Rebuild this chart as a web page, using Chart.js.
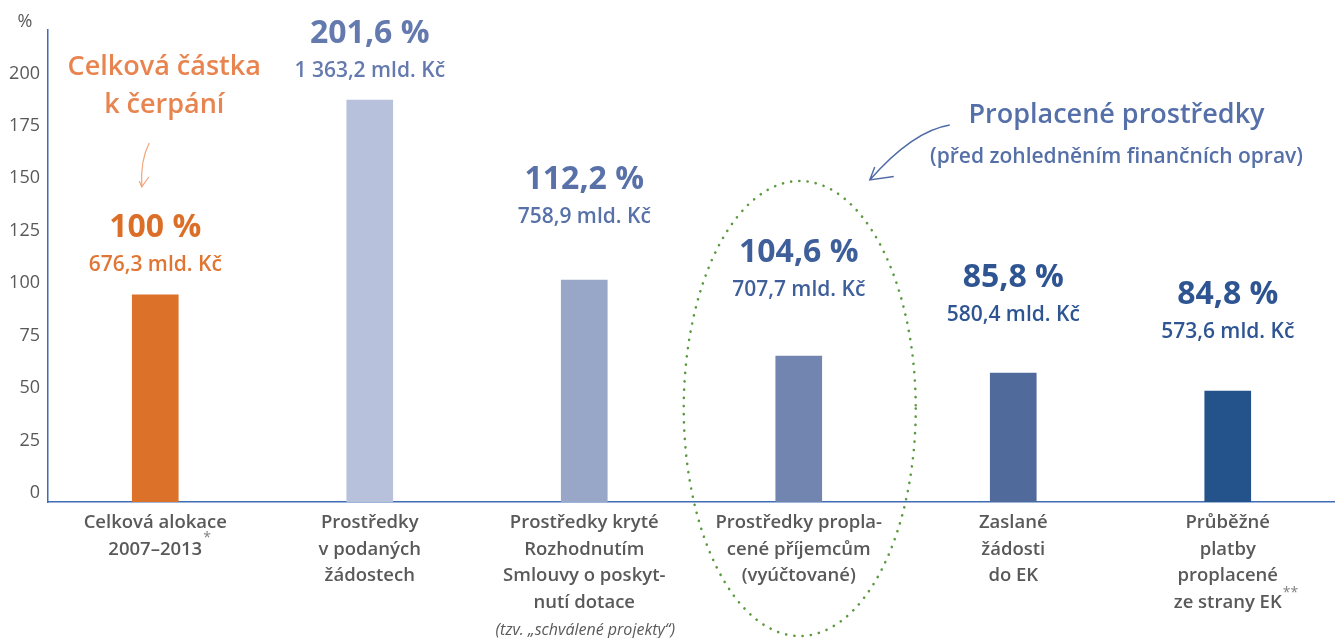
<!DOCTYPE html>
<html lang="cs">
<head>
<meta charset="utf-8">
<title>Čerpání prostředků 2007–2013</title>
<script src="https://cdn.jsdelivr.net/npm/chart.js@4/dist/chart.umd.min.js"></script>
<style>
  html, body { margin: 0; padding: 0; background: #ffffff; }
  #wrap { position: relative; width: 1335px; height: 638px; }
</style>
</head>
<body>
<div id="wrap"><canvas id="c"></canvas></div>
<script>
// ---- data ----
const categories = [
  ["Celková alokace", "2007–2013"],
  ["Prostředky", "v podaných", "žádostech"],
  ["Prostředky kryté", "Rozhodnutím", "Smlouvy o poskyt-", "nutí dotace"],
  ["Prostředky propla-", "cené příjemcům", "(vyúčtované)"],
  ["Zaslané", "žádosti", "do EK"],
  ["Průběžné", "platby", "proplacené", "ze strany EK"]
];
const barValues = [98.7, 191.6, 105.8, 69.6, 61.5, 52.9];
const percentLabels = ["100 %", "201,6 %", "112,2 %", "104,6 %", "85,8 %", "84,8 %"];
const amountLabels = ["676,3 mld. Kč", "1 363,2 mld. Kč", "758,9 mld. Kč", "707,7 mld. Kč", "580,4 mld. Kč", "573,6 mld. Kč"];
const yTickValues = [0, 25, 50, 75, 100, 125, 150, 175, 200];

// ---- styles ----
const barColors = ["#DC7129", "#B8C1DB", "#98A7C8", "#7285B0", "#506A9C", "#24528B"];
const pctColors = ["#DC6F27", "#6479AE", "#5871A8", "#3F5F9B", "#2E5592", "#2E5592"];
const amtColors = ["#E07633", "#6479AE", "#5871A8", "#3F5F9B", "#2E5592", "#2E5592"];
const labelGaps = [30, 29, 63, 66, 58, 59];
const FONT = '"Open Sans", "DejaVu Sans", sans-serif';

const annotations = {
  id: 'annotations',
  afterDraw(chart) {
    const { ctx, chartArea, scales: { x } } = chart;
    const bars = chart.getDatasetMeta(0).data;
    const base = chartArea.bottom;
    ctx.save();
    ctx.textAlign = 'center';
    ctx.textBaseline = 'middle';

    // value labels above bars
    bars.forEach((bar, i) => {
      const g = labelGaps[i];
      ctx.fillStyle = pctColors[i];
      ctx.font = '700 32px ' + FONT;
      ctx.fillText(percentLabels[i], bar.x, bar.y - g - 37);
      ctx.fillStyle = amtColors[i];
      ctx.font = '600 21px ' + FONT;
      ctx.fillText(amountLabels[i], bar.x, bar.y - g);
    });

    // "%" unit
    ctx.fillStyle = '#595959';
    ctx.font = '400 18px ' + FONT;
    ctx.fillText('%', chartArea.left - 23, chartArea.top - 8);

    // Celková částka k čerpání
    const b1 = bars[0].x;
    ctx.fillStyle = '#E8844F';
    ctx.font = '600 27px ' + FONT;
    ctx.fillText('Celková částka', b1 + 9, 67);
    ctx.fillText('k čerpání', b1 + 9, 105);
    // orange arrow
    ctx.strokeStyle = '#F2A57A';
    ctx.lineWidth = 1.2;
    ctx.beginPath();
    ctx.moveTo(b1 - 6, 143);
    ctx.quadraticCurveTo(b1 - 15, 160, b1 - 13.5, 187);
    ctx.moveTo(b1 - 16, 181);
    ctx.lineTo(b1 - 13.5, 187);
    ctx.lineTo(b1 - 6.5, 177);
    ctx.stroke();

    // dotted ellipse around 4th bar
    const cx = bars[3].x + 1;
    ctx.save();
    ctx.strokeStyle = '#5C9A40';
    ctx.lineWidth = 2.6;
    ctx.lineCap = 'round';
    ctx.setLineDash([0.1, 8.2]);
    ctx.beginPath();
    ctx.ellipse(cx, 408.5, 116, 227.5, 0, 0, Math.PI * 2);
    ctx.stroke();
    ctx.restore();

    // blue arrow
    ctx.strokeStyle = '#4F6AA6';
    ctx.lineWidth = 1.4;
    ctx.beginPath();
    ctx.moveTo(cx + 150, 125);
    ctx.quadraticCurveTo(cx + 113, 131, cx + 70, 180);
    ctx.moveTo(cx + 75, 167);
    ctx.lineTo(cx + 70, 180);
    ctx.lineTo(cx + 94, 176.5);
    ctx.stroke();

    // Proplacené prostředky
    const pm = (bars[4].x + bars[5].x) / 2 - 4;
    ctx.fillStyle = '#5570A8';
    ctx.font = '600 27px ' + FONT;
    ctx.fillText('Proplacené prostředky', pm, 115);
    ctx.font = '600 21px ' + FONT;
    ctx.fillText('(před zohledněním finančních oprav)', pm, 157);

    // italic note under 3rd category
    ctx.fillStyle = '#595959';
    ctx.font = 'italic 400 16px ' + FONT;
    ctx.fillText('(tzv. „schválené projekty“)', bars[2].x + 1, base + 128);

    // superscript asterisks
    ctx.font = '600 18.5px ' + FONT;
    const w1 = ctx.measureText(categories[0][1]).width;
    const w6 = ctx.measureText(categories[5][3]).width;
    ctx.fillStyle = '#808080';
    ctx.font = '400 14px ' + FONT;
    ctx.textAlign = 'left';
    ctx.fillText('*', x.getPixelForValue(0) + w1 / 2 + 1, base + 36);
    ctx.fillText('**', x.getPixelForValue(5) + w6 / 2 + 1, base + 91);
    ctx.restore();
  }
};

new Chart(document.getElementById('c'), {
  type: 'bar',
  data: {
    labels: categories,
    datasets: [{
      data: barValues,
      backgroundColor: barColors,
      borderWidth: 0,
      barThickness: 46
    }]
  },
  options: {
    responsive: true,
    maintainAspectRatio: false,
    animation: false,
    devicePixelRatio: 1,
    layout: { padding: { top: 30, left: 0, right: 0, bottom: 0 } },
    plugins: { legend: { display: false }, tooltip: { enabled: false } },
    scales: {
      x: {
        grid: { display: false, drawTicks: false },
        border: { display: true, color: '#3F6DB5', width: 1.5 },
        ticks: {
          color: '#595959',
          font: { family: FONT, size: 18.5, weight: '600', lineHeight: 1.43 },
          padding: 8,
          maxRotation: 0,
          autoSkip: false
        },
        afterFit(scale) { scale.height = 136; }
      },
      y: {
        min: 0,
        max: 225,
        grid: { display: false, drawTicks: false },
        border: { display: true, color: '#3F6DB5', width: 1.5 },
        afterBuildTicks(scale) { scale.ticks = yTickValues.map(v => ({ value: v })); },
        ticks: {
          color: '#595959',
          font: { family: FONT, size: 18, weight: '400' },
          padding: 8,
          labelOffset: -9
        },
        afterFit(scale) { scale.width = 48; }
      }
    }
  },
  plugins: [annotations]
});
</script>
</body>
</html>
